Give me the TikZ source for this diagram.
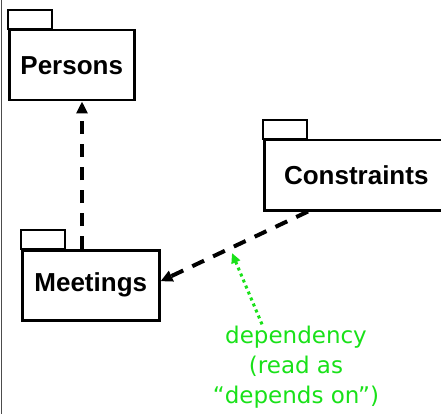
\documentclass[tikz,border=0pt]{standalone}
\usepackage{fontspec}
\setmainfont{Liberation Sans}
\newfontfamily\notefont{DejaVu Sans}
\usetikzlibrary{arrows.meta,calc}
\definecolor{notegreen}{RGB}{25,225,25}
\begin{document}
\begin{tikzpicture}[x=1pt,y=-1pt,
  pkg/.style={draw,line width=2.5pt,inner sep=0pt,minimum height=70pt,
    font=\fontsize{26}{30}\selectfont\bfseries},
  pkgtab/.style={draw,line width=2.5pt},
  dep/.style={line width=4pt,dash pattern=on 13pt off 10pt,
    -{Triangle[length=12pt,width=11pt]}},
  note/.style={text=notegreen,font=\notefont\fontsize{23}{30}\selectfont,align=center},
  noteline/.style={notegreen,line width=3pt,dash pattern=on 3pt off 3.5pt,
    -{Triangle[length=10pt,width=9pt]}}]
\useasboundingbox (0,0) rectangle (441,414);
% frame edge on the left
\draw[line width=1.5pt,black!70] (1.5,0) -- (1.5,414);

% packages: body plus tab
\node[pkg,anchor=north west,minimum width=125pt] (pers) at (8,29) {Persons};
\draw[pkgtab] (pers.north west) rectangle ++(44,-19);
\node[pkg,anchor=north west,minimum width=137pt] (meet) at (21,249) {Meetings};
\draw[pkgtab] (meet.north west) rectangle ++(44,-19);
\node[pkg,anchor=north west,minimum width=184pt] (cons) at (263,139) {Constraints};
\draw[pkgtab] (cons.north west) rectangle ++(44,-19);

% dependencies
\draw[dep] ([xshift=61pt]meet.north west) -- ([xshift=74pt]pers.south west);
\draw[dep] ([xshift=45pt]cons.south west) -- ([yshift=4pt]meet.east);

% annotation
\node[note] (lbl) at (296,367) {dependency\\(read as\\“depends on”)};
\coordinate (tip) at (232,253);
\draw[noteline] ([xshift=-34pt,yshift=-2pt]lbl.north) -- (tip);
\end{tikzpicture}
\end{document}
